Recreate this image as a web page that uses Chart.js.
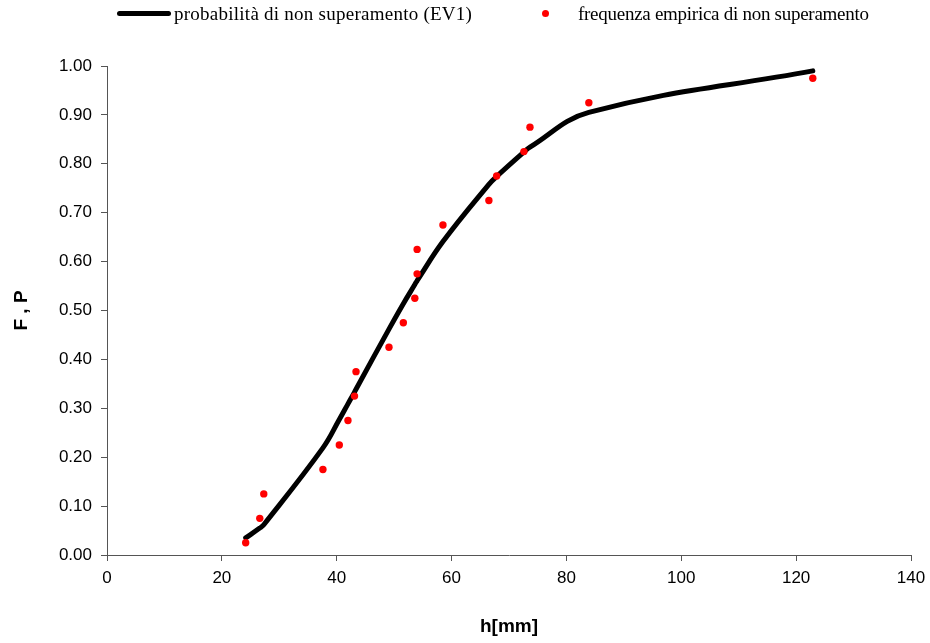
<!DOCTYPE html>
<html>
<head>
<meta charset="utf-8">
<script src="https://cdn.jsdelivr.net/npm/chart.js@4.4.0/dist/chart.umd.min.js"></script>
<style>
    body { margin: 0; background: #fff; }
    #wrap { position: relative; width: 930px; height: 643px; }
    #legenda { position: absolute; left: 0; top: 0; width: 930px; height: 30px; font-family: "Liberation Serif", "Times New Roman", serif; font-size: 19px; color: #000; }
    .item { position: absolute; top: 3px; line-height: 22px; white-space: nowrap; }
    .riga { position: absolute; left: 117px; top: 11px; width: 54px; height: 5px; background: #000; border-radius: 3px; }
    .punto { position: absolute; left: 542px; top: 10px; width: 7px; height: 7px; background: #ff0000; border-radius: 50%; }
</style>
</head>
<body>
<div id="wrap">
    <canvas id="grafico-ev1" width="930" height="643"></canvas>
    <div id="legenda">
        <div class="riga"></div>
        <span class="item" style="left:174px; letter-spacing:0.25px">probabilità di non superamento (EV1)</span>
        <div class="punto"></div>
        <span class="item" style="left:578px; letter-spacing:-0.27px">frequenza empirica di non superamento</span>
    </div>
</div>
<script>
// altezze di pioggia ordinate [mm]
const altezze = [24.15, 26.6, 27.3, 37.6, 40.45, 41.96, 43.1, 43.36, 49.1, 51.6, 53.6, 54.0, 54.0, 58.5, 66.5, 67.85, 72.6, 73.65, 83.9, 122.9];
// frequenza empirica di non superamento
const freqEmpirica = [0.025, 0.075, 0.125, 0.175, 0.225, 0.275, 0.325, 0.375, 0.425, 0.475, 0.525, 0.575, 0.625, 0.675, 0.725, 0.775, 0.825, 0.875, 0.925, 0.975];
// probabilità di non superamento (EV1)
const probEV1 = [0.035, 0.055, 0.062, 0.219, 0.277, 0.309, 0.333, 0.339, 0.462, 0.514, 0.553, 0.561, 0.561, 0.641, 0.758, 0.774, 0.824, 0.834, 0.905, 0.990];

const tickX = [0, 20, 40, 60, 80, 100, 120, 140];
const tickY = [0, 0.1, 0.2, 0.3, 0.4, 0.5, 0.6, 0.7, 0.8, 0.9, 1.0];

const coloreAsse = '#555555';

const datiLinea = altezze.map((h, i) => ({ x: h, y: probEV1[i] }));
const datiPunti = altezze.map((h, i) => ({ x: h, y: freqEmpirica[i] }));

const ctx = document.getElementById('grafico-ev1').getContext('2d');

const config = {
    type: 'scatter',
    data: {
        datasets: [{
            label: 'frequenza empirica di non superamento',
            data: datiPunti,
            backgroundColor: '#ff0000',
            borderColor: '#ff0000',
            pointRadius: 3.7,
            pointBorderWidth: 0,
            showLine: false
        }, {
            label: 'probabilità di non superamento (EV1)',
            data: datiLinea,
            borderColor: '#000000',
            borderWidth: 5,
            pointRadius: 0,
            showLine: true,
            tension: 0.4,
            borderCapStyle: 'round',
            borderJoinStyle: 'round'
        }]
    },
    options: {
        responsive: false,
        animation: false,
        layout: {
            padding: { top: 66, right: 19, bottom: 0, left: 0 }
        },
        plugins: {
            legend: { display: false },
            tooltip: { enabled: false }
        },
        scales: {
            x: {
                type: 'linear',
                min: 0,
                max: 140,
                afterBuildTicks: (asse) => { asse.ticks = tickX.map(v => ({ value: v })); },
                afterFit: (asse) => {
                    asse.height = 643 - 555;
                    asse.paddingLeft = 0;
                    asse.paddingRight = 0;
                },
                ticks: {
                    color: '#000',
                    font: { family: 'Liberation Sans, Arial', size: 17 },
                    padding: 7
                },
                grid: {
                    drawOnChartArea: false,
                    drawTicks: true,
                    tickLength: 6,
                    color: coloreAsse
                },
                border: { display: true, color: coloreAsse, width: 1 },
                title: {
                    display: true,
                    text: 'h[mm]',
                    color: '#000',
                    font: { family: 'Liberation Sans, Arial', size: 19, weight: 'bold' },
                    padding: { top: 0, bottom: 5 }
                }
            },
            y: {
                type: 'linear',
                min: 0,
                max: 1,
                afterBuildTicks: (asse) => { asse.ticks = tickY.map(v => ({ value: v })); },
                afterFit: (asse) => {
                    asse.width = 107;
                    asse.paddingTop = 0;
                    asse.paddingBottom = 0;
                },
                ticks: {
                    color: '#000',
                    font: { family: 'Liberation Sans, Arial', size: 17 },
                    padding: 9,
                    callback: (v) => Number(v).toFixed(2)
                },
                grid: {
                    drawOnChartArea: false,
                    drawTicks: true,
                    tickLength: 6,
                    color: coloreAsse
                },
                border: { display: true, color: coloreAsse, width: 1 },
                title: {
                    display: true,
                    text: 'F , P',
                    color: '#000',
                    font: { family: 'Liberation Sans, Arial', size: 19, weight: 'bold' },
                    padding: { top: 10, bottom: 0 }
                }
            }
        }
    }
};

new Chart(ctx, config);
</script>
</body>
</html>
